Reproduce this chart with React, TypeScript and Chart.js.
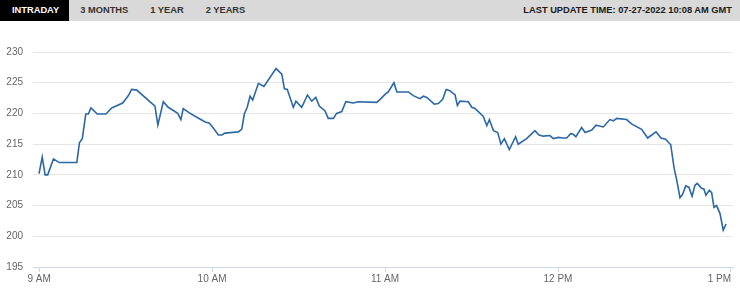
import React, { useEffect, useRef } from 'react';
import { Chart, registerables } from 'chart.js';

Chart.register(...registerables);

// minutes after 9 AM
const minutes = [
  0.0, 1.1, 2.1, 3.0, 5.0, 7.0, 13.1, 14.0, 15.0, 16.2, 17.1, 18.0, 20.2, 23.2, 25.2, 29.0, 31.0, 32.1, 33.9,
  40.2, 41.2, 43.1, 44.8, 48.1, 49.2, 50.0, 52.4, 55.8, 57.6, 59.1, 60.5, 62.2, 63.4, 64.5, 69.1, 70.3, 71.2,
  72.2, 73.2, 74.1, 76.1, 78.0, 82.2, 84.2, 85.1, 86.1, 88.2, 89.1, 91.1, 93.1, 94.6, 96.0, 97.2, 99.2, 100.3,
  102.1, 103.2, 105.0, 106.4, 109.0, 110.7, 117.1, 118.3, 120.0, 121.1, 123.1, 124.1, 128.1, 129.8, 132.1,
  133.3, 134.5, 137.1, 138.5, 140.0, 141.2, 142.5, 144.3, 145.1, 146.0, 148.9, 150.1, 151.2, 154.1, 155.3,
  156.2, 157.6, 159.1, 160.2, 161.4, 163.1, 165.3, 166.2, 169.1, 172.0, 173.4, 174.9, 177.2, 178.4, 180.1,
  181.8, 183.0, 184.4, 185.3, 186.2, 188.2, 189.4, 191.7, 193.2, 195.7, 198.0, 199.2, 200.4, 203.8, 205.5,
  209.0, 211.1, 214.0, 215.7, 217.3, 219.1, 220.3, 221.2, 222.3, 223.2, 224.3, 225.4, 226.5, 227.5, 228.3,
  229.8, 230.6, 231.3, 232.5, 233.3, 234.1, 235.0, 236.2, 237.3, 238.3,
];

const prices = [
  210.2, 212.9, 210.0, 210.0, 212.6, 212.0, 212.0, 215.2, 215.9, 219.9, 219.9, 220.9, 219.9, 219.9, 220.9, 221.7, 222.9, 223.9, 223.8,
  221.2, 218.1, 221.9, 221.0, 220.0, 219.0, 220.8, 220.0, 219.1, 218.6, 218.4, 217.6, 216.5, 216.5, 216.8, 217.0, 217.4, 219.9,
  221.0, 222.8, 222.2, 224.9, 224.4, 227.3, 226.4, 224.0, 223.9, 221.0, 222.0, 221.0, 223.0, 222.0, 222.6, 221.2, 220.4, 219.2,
  219.2, 220.0, 220.3, 221.9, 221.7, 221.9, 221.8, 222.3, 223.1, 223.5, 225.0, 223.5, 223.5, 222.9, 222.4,
  222.8, 222.6, 221.5, 221.6, 222.3, 223.9, 223.7, 223.0, 221.3, 222.0, 221.9, 221.0, 220.8, 219.5, 218.0,
  219.0, 217.2, 216.9, 215.0, 215.9, 214.1, 216.2, 215.0, 215.9, 217.2, 216.5, 216.3, 216.4, 215.9, 216.1,
  216.0, 216.0, 216.7, 216.6, 216.2, 217.7, 216.9, 217.3, 218.1, 217.8, 219.0, 218.8, 219.2, 219.0, 218.3,
  217.4, 216.0, 217.0, 216.0, 215.8, 214.9, 211.0, 209.1, 206.3, 206.8, 208.2, 208.0, 206.5, 208.3, 208.6,
  207.8, 207.7, 206.7, 207.5, 207.1, 204.7, 205.0, 203.7, 201.0, 202.0,
];

const xTickValues = [0, 60, 120, 180, 240];
const xTickLabels = ['9 AM', '10 AM', '11 AM', '12 PM', '1 PM'];
const yTickValues = [195, 200, 205, 210, 215, 220, 225, 230];
const tabs = ['INTRADAY', '3 MONTHS', '1 YEAR', '2 YEARS'];
const lastUpdate = 'LAST UPDATE TIME: 07-27-2022 10:08 AM GMT';

const FONT = '"Liberation Sans", Arial, Helvetica, sans-serif';

export default function App() {
  const canvasRef = useRef<HTMLCanvasElement | null>(null);

  useEffect(() => {
    document.body.style.margin = '0';
    const canvas = canvasRef.current;
    if (!canvas) return;
    const xMin = -2.1;
    const xMax = 240.7;
    const chart = new Chart(canvas, {
      type: 'line',
      data: {
        datasets: [
          {
            data: minutes.map((m, i) => ({ x: m, y: prices[i] })),
            borderColor: '#2c68a6',
            borderWidth: 1.6,
            pointRadius: 0,
            fill: false,
            tension: 0,
          },
        ],
      },
      options: {
        animation: false,
        responsive: false,
        layout: { padding: { top: 52, right: 7, left: 0, bottom: 0 } },
        plugins: { legend: { display: false }, tooltip: { enabled: false } },
        scales: {
          x: {
            type: 'linear',
            min: xMin,
            max: xMax,
            afterBuildTicks: (axis: any) => {
              axis.ticks = [{ value: xMin }, ...xTickValues.map((v) => ({ value: v }))];
            },
            ticks: {
              align: 'inner',
              autoSkip: false,
              maxRotation: 0,
              padding: 1,
              color: '#666666',
              font: { family: FONT, size: 10 },
              callback: (v: any) => {
                const i = xTickValues.indexOf(Number(v));
                return i >= 0 ? xTickLabels[i] : '';
              },
            },
            grid: {
              drawOnChartArea: false,
              drawTicks: true,
              tickLength: 5,
              tickColor: (ctx: any) =>
                ctx.tick && xTickValues.includes(ctx.tick.value) ? '#ccd6eb' : 'rgba(0,0,0,0)',
            },
            border: { display: true, color: '#ccd6eb', width: 1 },
            afterFit: (s: any) => {
              s.height = 22;
              s.paddingLeft = 0;
              s.paddingRight = 0;
            },
          },
          y: {
            type: 'linear',
            min: 195,
            max: 230,
            afterBuildTicks: (axis: any) => {
              axis.ticks = yTickValues.map((v) => ({ value: v }));
            },
            ticks: {
              padding: 10,
              color: '#666666',
              font: { family: FONT, size: 10 },
            },
            grid: { color: '#e6e6e6', drawTicks: false },
            border: { display: false },
            afterFit: (s: any) => {
              s.width = 33;
            },
          },
        },
      },
    } as any);
    return () => chart.destroy();
  }, []);

  return (
    <div style={{ position: 'relative', width: 740, height: 289, background: '#ffffff', overflow: 'hidden' }}>
      <canvas ref={canvasRef} width={740} height={289} style={{ position: 'absolute', left: 0, top: 0, width: 740, height: 289 }} />
      <div
        style={{
          position: 'absolute',
          left: 0,
          top: 0,
          width: 740,
          height: 21,
          background: '#d9d9d9',
          display: 'flex',
          alignItems: 'stretch',
          fontFamily: FONT,
          fontWeight: 'bold',
          fontSize: 9.3,
          lineHeight: '21px',
        }}
      >
        {tabs.map((t, i) => (
          <div
            key={t}
            style={{
              padding: i === 0 ? '0 10px 0 12px' : '0 11px',
              background: i === 0 ? '#000000' : 'transparent',
              color: i === 0 ? '#ffffff' : '#333333',
              whiteSpace: 'nowrap',
            }}
          >
            {t}
          </div>
        ))}
        <div style={{ flex: 1 }} />
        <div style={{ paddingRight: 8, color: '#1a1a1a', whiteSpace: 'nowrap' }}>{lastUpdate}</div>
      </div>
    </div>
  );
}
